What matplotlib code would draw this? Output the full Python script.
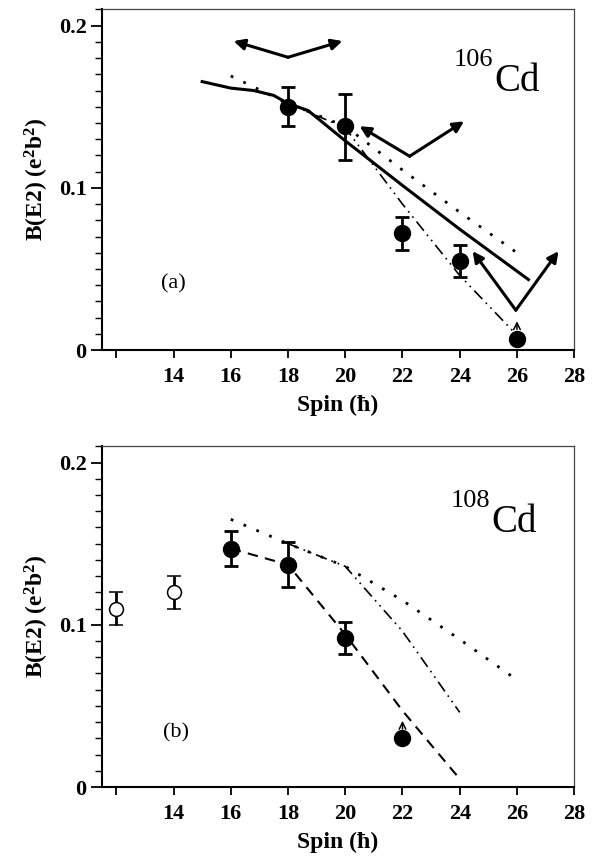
"""
B(E2) vs spin for 106Cd and 108Cd, two stacked panels
"""

import numpy as np
import matplotlib
matplotlib.use('Agg')
import matplotlib.pyplot as plt
from matplotlib.ticker import MultipleLocator

plt.rcParams['font.family'] = ['Liberation Serif', 'DejaVu Serif']
plt.rcParams['mathtext.fontset'] = 'custom'
plt.rcParams['mathtext.rm'] = 'Liberation Serif:bold'
plt.rcParams['mathtext.it'] = 'Liberation Serif:bold'

# ---- 106Cd (panel a) ----
a_spin = [18, 20, 22, 24]
a_be2 = [0.150, 0.138, 0.072, 0.055]
a_err_lo = [0.012, 0.021, 0.010, 0.010]
a_err_hi = [0.012, 0.020, 0.010, 0.010]
a_lim_spin = [26]
a_lim_be2 = [0.007]

a_solid_x = [15, 16, 16.8, 17.5, 18, 18.7, 20, 22, 24, 26.4]
a_solid_y = [0.1655, 0.1615, 0.160, 0.157, 0.152, 0.1477, 0.129, 0.1015, 0.0745, 0.0435]
a_dot_x = [16, 18, 20, 22, 24, 26]
a_dot_y = [0.169, 0.152, 0.138, 0.111, 0.085, 0.060]
a_dd_x = [18, 20, 22, 24, 25.9]
a_dd_y = [0.152, 0.137, 0.090, 0.046, 0.011]

# thick "V" arrows: vertex, left tip, right tip
a_vees = [
    ((18.0, 0.1805), (16.1, 0.1905), (19.9, 0.1905)),
    ((22.25, 0.1195), (20.5, 0.138), (24.15, 0.141)),
    ((25.96, 0.0246), (24.45, 0.061), (27.45, 0.061)),
]

# ---- 108Cd (panel b) ----
b_open_spin = [12, 14]
b_open_be2 = [0.110, 0.120]
b_open_err = [0.010, 0.010]
b_spin = [16, 18, 20]
b_be2 = [0.147, 0.137, 0.092]
b_err_lo = [0.011, 0.014, 0.010]
b_err_hi = [0.011, 0.014, 0.010]
b_lim_spin = [22]
b_lim_be2 = [0.030]

b_dot_x = [16, 18, 20, 22, 24, 26]
b_dot_y = [0.165, 0.150, 0.136, 0.115, 0.091, 0.066]
b_dd_x = [18, 20, 22, 24]
b_dd_y = [0.150, 0.136, 0.096, 0.046]
b_dash_x = [16, 18, 20, 22, 24]
b_dash_y = [0.147, 0.137, 0.094, 0.047, 0.005]

x_ticks = [12, 14, 16, 18, 20, 22, 24, 26, 28]
x_labels = ['', '14', '16', '18', '20', '22', '24', '26', '28']

DOT = (0, (1, 4))
DASHDOTDOT = (0, (7, 3, 1, 3, 1, 3))
DASH = (0, (5, 3.5))


def style_axes(ax):
    ax.set_xlim(11.5, 28)
    ax.set_ylim(0, 0.21)
    ax.set_xticks(x_ticks)
    ax.set_xticklabels(x_labels)
    ax.set_yticks([0, 0.1, 0.2])
    ax.set_yticklabels(['0', '0.1', '0.2'])
    ax.yaxis.set_minor_locator(MultipleLocator(0.01))
    ax.tick_params(axis='x', direction='out', length=6, width=1.3,
                   labelsize=16, pad=6)
    ax.tick_params(axis='y', which='major', direction='out', length=8,
                   width=1.3, labelsize=16, pad=3)
    ax.tick_params(axis='y', which='minor', direction='out', length=5, width=1)
    for lab in ax.get_xticklabels() + ax.get_yticklabels():
        lab.set_fontweight('bold')
    for side in ['left', 'bottom']:
        ax.spines[side].set_linewidth(1.5)
    for side in ['top', 'right']:
        ax.spines[side].set_linewidth(0.9)
        ax.spines[side].set_color('#444444')
    ax.set_xlabel('Spin (ħ)', fontsize=17, fontweight='bold', labelpad=6)
    ax.set_ylabel(r'B(E2) (e$^{2}$b$^{2}$)', fontsize=17, fontweight='bold',
                  labelpad=6)


def draw_points(ax, x, y, lo, hi):
    ax.errorbar(x, y, yerr=[lo, hi], fmt='o', color='black', ms=11.5,
                elinewidth=2, capsize=5, capthick=2, zorder=5)


def draw_limits(ax, x, y):
    ax.plot(x, y, 'o', color='black', ms=11.5, zorder=5)
    for xi, yi in zip(x, y):
        ax.annotate('', xy=(xi, yi + 0.0125), xytext=(xi, yi + 0.004),
                    arrowprops=dict(arrowstyle='->', lw=1.1, color='black',
                                    mutation_scale=12), zorder=6)


def draw_vee(ax, vertex, left, right):
    for tip in (left, right):
        ax.annotate('', xy=tip, xytext=vertex,
                    arrowprops=dict(arrowstyle='-|>', lw=2.2, color='black',
                                    mutation_scale=16, shrinkA=0, shrinkB=0),
                    zorder=4)


fig = plt.figure(figsize=(6.0, 8.56), dpi=100)
ax1 = fig.add_axes([0.17, 0.591, 0.787, 0.398])
ax2 = fig.add_axes([0.17, 0.0806, 0.787, 0.398])

# panel a
style_axes(ax1)
ax1.plot(a_solid_x, a_solid_y, '-', color='black', lw=2.2)
ax1.plot(a_dot_x, a_dot_y, color='black', lw=2, linestyle=DOT)
ax1.plot(a_dd_x, a_dd_y, color='black', lw=1.2, linestyle=DASHDOTDOT)
draw_points(ax1, a_spin, a_be2, a_err_lo, a_err_hi)
draw_limits(ax1, a_lim_spin, a_lim_be2)
for v, l, r in a_vees:
    draw_vee(ax1, v, l, r)
ax1.text(25.17, 0.175, '106', fontsize=19, ha='right', va='baseline')
ax1.text(25.2, 0.1595, 'Cd', fontsize=28, ha='left', va='baseline')
ax1.text(14.0, 0.041, '(a)', fontsize=16, ha='center', va='center')

# panel b
style_axes(ax2)
ax2.plot(b_dot_x, b_dot_y, color='black', lw=2, linestyle=DOT)
ax2.plot(b_dd_x, b_dd_y, color='black', lw=1.2, linestyle=DASHDOTDOT)
ax2.plot(b_dash_x, b_dash_y, color='black', lw=1.5, linestyle=DASH)
ax2.errorbar(b_open_spin, b_open_be2, yerr=b_open_err, fmt='o', color='black',
             mfc='white', ms=10, mew=1.1, elinewidth=2, capsize=5,
             capthick=2, zorder=5)
draw_points(ax2, b_spin, b_be2, b_err_lo, b_err_hi)
draw_limits(ax2, b_lim_spin, b_lim_be2)
ax2.text(25.07, 0.1725, '108', fontsize=19, ha='right', va='baseline')
ax2.text(25.1, 0.157, 'Cd', fontsize=28, ha='left', va='baseline')
ax2.text(14.1, 0.0335, '(b)', fontsize=16, ha='center', va='center')

plt.savefig('out.png', dpi=100, facecolor='white')
plt.close()
